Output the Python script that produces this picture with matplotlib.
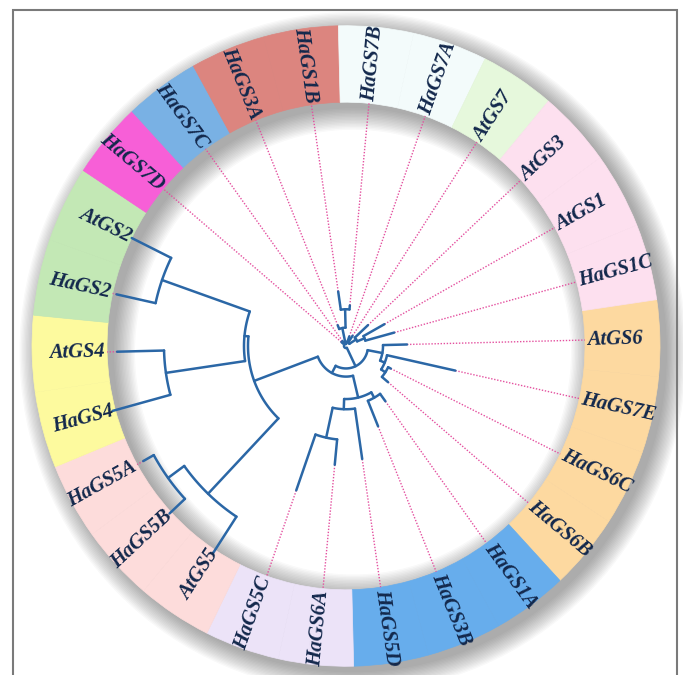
import numpy as np
import matplotlib.pyplot as plt
from matplotlib.patches import Wedge, Rectangle

# leaves in tree order, clockwise starting at AtGS6 (3 o'clock)
leaves = ['AtGS6', 'HaGS7E', 'HaGS6C', 'HaGS6B', 'HaGS1A', 'HaGS3B', 'HaGS5D', 'HaGS6A', 'HaGS5C',
          'AtGS5', 'HaGS5B', 'HaGS5A', 'HaGS4', 'AtGS4', 'HaGS2', 'AtGS2',
          'HaGS7D', 'HaGS7C', 'HaGS3A', 'HaGS1B', 'HaGS7B', 'HaGS7A', 'AtGS7', 'AtGS3', 'AtGS1', 'HaGS1C']
# radius where the blue branch of each leaf ends
tip_r = [61, 112, 50, 55, 67, 85, 112, 117, 150,
         243, 241, 232, 242, 229, 235, 239,
         6, 6, 22, 54, 40, 10, 12, 30, 44, 50]
ring_col = ['#fdd9a0', '#fdd9a0', '#fdd9a0', '#fdd9a0', '#67adec', '#67adec', '#67adec', '#ece3f8', '#ece3f8',
            '#fddcdb', '#fddcdb', '#fddcdb', '#fdfa9e', '#fdfa9e', '#c3e8b5', '#c3e8b5',
            '#f75fd7', '#79b1e4', '#dc857f', '#dc857f', '#f3fbfb', '#f3fbfb', '#e6f8dc', '#fde0ef', '#fde0ef', '#fde0ef']

# tree: (node radius, [children]) ; leaves by name
tree = (2, [
    (22, [
        (37, ['AtGS6', (42, ['HaGS7E', (47, ['HaGS6C', 'HaGS6B'])])]),
        (30, [
            (52, [(58, ['HaGS1A', 'HaGS3B']), (62, ['HaGS5D', (92, ['HaGS6A', 'HaGS5C'])])]),
            (98, [(200, ['AtGS5', (220, ['HaGS5B', 'HaGS5A'])]),
                  (102, [(182, ['HaGS4', 'AtGS4']), (195, ['HaGS2', 'AtGS2'])])]),
        ]),
    ]),
    (4, ['HaGS7D', 'HaGS7C', (18, ['HaGS3A', (36, ['HaGS1B', 'HaGS7B'])]), 'HaGS7A', 'AtGS7',
         (12, ['AtGS3', (20, ['AtGS1', 'HaGS1C'])])]),
])

start = 88.6
step = 360 / len(leaves)
r_in, r_out = 239, 314
cx, cy = 346, 346
tree_col = '#2b67a6'
dot_col = '#e4509f'
txt_col = '#13284c'

leaf_th = {n: start + i * step for i, n in enumerate(leaves)}
leaf_r = dict(zip(leaves, tip_r))


def xy(r, th):
    t = np.radians(th)
    return r * np.sin(t), r * np.cos(t)


fig = plt.figure(figsize=(6.83, 6.75), dpi=100)
ax = fig.add_axes([0, 0, 1, 1])
ax.set_xlim(-cx, 683 - cx)
ax.set_ylim(-(675 - cy) / 1.02, cy / 1.02)
ax.axis('off')

# soft drop shadow of the ring (falls to the lower right)
for k in range(16):
    ax.add_patch(Wedge((7, -6), r_out + k * 1.3, 0, 360, width=r_out - r_in + k * 2.7,
                       facecolor='#2a2a2a', edgecolor='none', alpha=0.028, zorder=1))

# coloured ring
for n, c in zip(leaves, ring_col):
    a = 90 - leaf_th[n]
    ax.add_patch(Wedge((0, 0), r_out, a - step / 2, a + step / 2, width=r_out - r_in,
                       facecolor=c, edgecolor=c, lw=0.5, zorder=2))


def draw(node):
    if isinstance(node, str):
        return leaf_th[node], leaf_r[node]
    r, kids = node
    res = [draw(k) for k in kids]
    ths = [t for t, _ in res]
    arc = np.linspace(min(ths), max(ths), 60)
    ax.plot(*xy(r, arc), color=tree_col, lw=1.8, solid_capstyle='round', zorder=4)
    for t, rr in res:
        ax.plot(*xy(np.array([r, rr]), np.array([t, t])), color=tree_col, lw=1.8,
                solid_capstyle='round', zorder=4)
    return (min(ths) + max(ths)) / 2, r


draw(tree)

for n in leaves:
    th = leaf_th[n]
    if leaf_r[n] < r_in:
        ax.plot(*xy(np.array([leaf_r[n], r_in]), np.array([th, th])), color=dot_col,
                lw=1.0, ls=(0, (1, 1.2)), zorder=3)
    x, y = xy(r_in + 2, th)
    if th % 360 < 180:
        rot, ha = 90 - th, 'left'
    else:
        rot, ha = 270 - th, 'right'
    ax.text(x, y, n, rotation=rot, rotation_mode='anchor', ha=ha, va='center',
            fontsize=14.8, fontfamily='Liberation Serif', fontweight='bold', fontstyle='italic',
            color=txt_col, zorder=5)

# outer frame
fig.add_artist(Rectangle((13 / 683, -0.02), (677 - 13) / 683, (670 - 5) / 675 + 0.02,
                         transform=fig.transFigure, fill=False, edgecolor='#7a7a7a', lw=1.5))

fig.savefig('out.png', dpi=100)
